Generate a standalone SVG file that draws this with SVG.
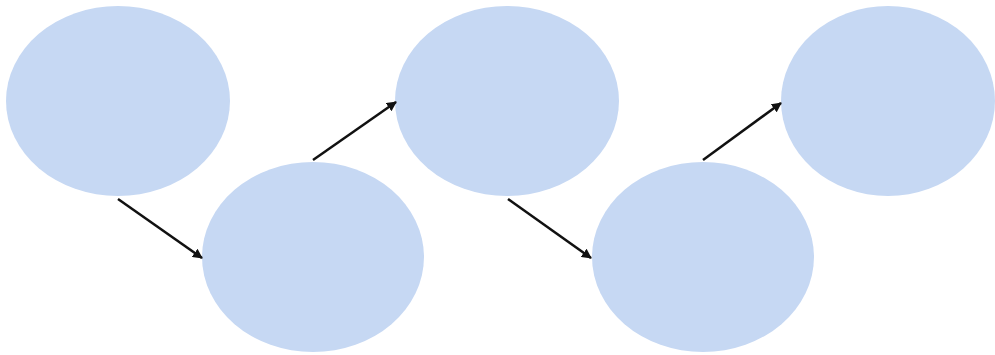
<svg xmlns="http://www.w3.org/2000/svg" width="995" height="355" viewBox="0 0 995 355">
<defs>
<style>
.node{fill:#c6d8f3;stroke:none}
.edge{stroke:#111;stroke-width:2.5;fill:none;marker-end:url(#ah)}
</style>
<marker id="ah" viewBox="0 0 10 10" refX="9" refY="5" markerWidth="4" markerHeight="4" orient="auto" markerUnits="strokeWidth">
<path d="M0,0 L10,5 L0,10 z" fill="#111"/>
</marker>
</defs>
<rect width="995" height="355" fill="#fff"/>
<g id="node1"><ellipse class="node" cx="118" cy="101" rx="112" ry="95"/></g>
<g id="node2"><ellipse class="node" cx="313" cy="257" rx="111" ry="95"/></g>
<g id="node3"><ellipse class="node" cx="507" cy="101" rx="112" ry="95"/></g>
<g id="node4"><ellipse class="node" cx="703" cy="257" rx="111" ry="95"/></g>
<g id="node5"><ellipse class="node" cx="888" cy="101" rx="107" ry="95"/></g>
<g id="connectors">
<line class="edge" x1="118" y1="199" x2="202" y2="258"/>
<line class="edge" x1="313" y1="160" x2="396" y2="102"/>
<line class="edge" x1="508" y1="199" x2="591" y2="258"/>
<line class="edge" x1="703" y1="160" x2="781" y2="103"/>
</g>
</svg>
